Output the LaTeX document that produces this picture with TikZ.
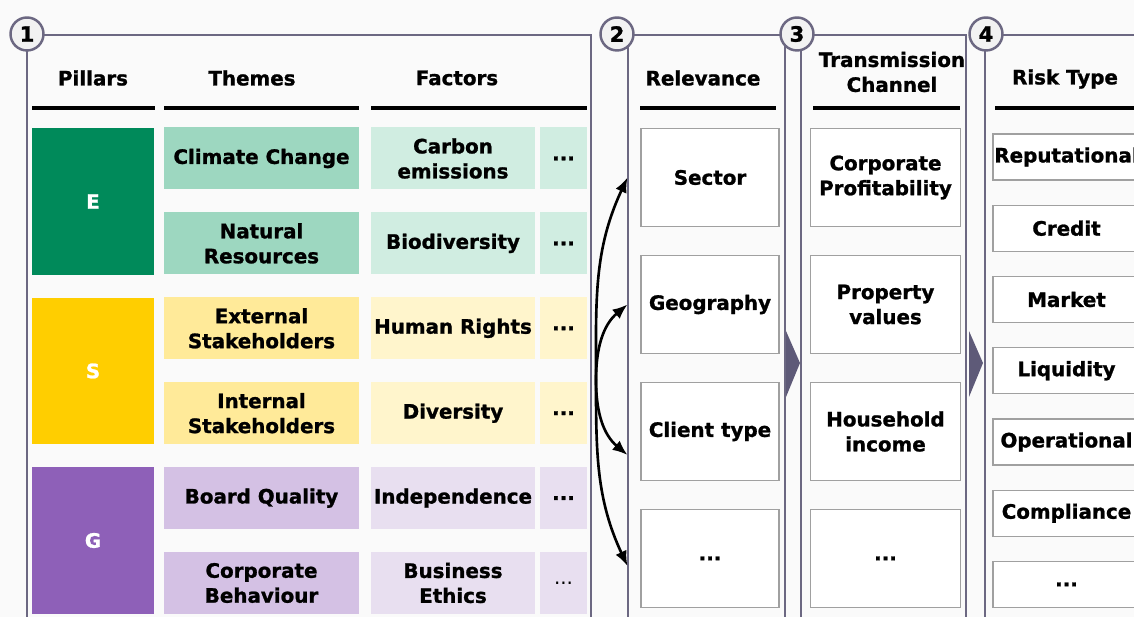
\documentclass[tikz,border=0pt]{standalone}
\usepackage{fontspec}
\setmainfont{DejaVu Sans}[BoldFeatures={FakeBold=1.2}]
\usetikzlibrary{arrows.meta}

\definecolor{bg}{RGB}{250,250,250}
\definecolor{frame}{RGB}{108,104,130}
\definecolor{chev}{RGB}{94,90,120}
\definecolor{circfill}{RGB}{242,242,242}
\definecolor{boxline}{RGB}{160,160,160}
\definecolor{eDark}{RGB}{0,138,90}
\definecolor{eThm}{RGB}{157,215,192}
\definecolor{eFac}{RGB}{208,237,225}
\definecolor{sDark}{RGB}{255,206,0}
\definecolor{sThm}{RGB}{255,234,153}
\definecolor{sFac}{RGB}{255,245,204}
\definecolor{gDark}{RGB}{142,96,184}
\definecolor{gThm}{RGB}{212,193,228}
\definecolor{gFac}{RGB}{232,223,240}

\newcommand{\dotsmark}{...}

\tikzset{
  cell/.style={inner sep=0pt, align=center, font=\fontsize{11.3}{14.2}\selectfont\bfseries},
  pillar/.style={cell, minimum width=2.44cm, minimum height=2.94cm, text=white},
  theme/.style={cell, minimum width=3.9cm, minimum height=1.24cm},
  factor/.style={cell, minimum width=3.28cm, minimum height=1.24cm},
  more/.style={cell, minimum width=0.94cm, minimum height=1.24cm},
  header/.style={cell},
  wbox/.style={cell, fill=white, draw=boxline, line width=0.6pt},
  relbox/.style={wbox, minimum width=2.76cm, minimum height=1.96cm},
  chanbox/.style={wbox, minimum width=3cm, minimum height=1.96cm},
  riskbox/.style={wbox, minimum width=2.94cm, minimum height=0.92cm},
  frameline/.style={draw=frame, line width=1.4pt},
  numcirc/.style={circle, draw=frame, fill=circfill, line width=1.4pt, minimum size=0.66cm,
    inner sep=0pt, font=\fontsize{12}{14}\selectfont\bfseries},
  hrule/.style={line width=2.2pt},
  link/.style={line width=1.5pt, -{Latex[length=0.3cm,width=0.24cm]}}
}

\begin{document}
\begin{tikzpicture}[x=0.02cm, y=-0.02cm]
  % Page and background
  \path[use as bounding box, fill=bg] (0,0) rectangle (1134,617);

  % Draw the panel frames
  \draw[frameline] (27,630) -- (27,35) -- (591,35) -- (591,630);
  \draw[frameline] (628,630) -- (628,35) -- (785,35) -- (785,630);
  \draw[frameline] (801,630) -- (801,35) -- (966,35) -- (966,630);
  \draw[frameline] (985,630) -- (985,35) -- (1150,35);

  % Chevrons between the panels
  \fill[chev] (786,331) -- (800,363) -- (786,397) -- cycle;
  \fill[chev] (969,331) -- (983,363) -- (969,397) -- cycle;

  % Panel numbers
  \foreach \n/\x in {1/27,2/617,3/797,4/986} {
    \node[numcirc] (num\n) at (\x,34) {\n};
  }

  % Column headers
  \node[header] (hPil) at (93,78) {Pillars};
  \node[header] (hThm) at (252,78) {Themes};
  \node[header] (hFac) at (457,78) {Factors};
  \node[header] (hRel) at (703,78) {Relevance};
  \node[header] (hChn) at (892,72) {Transmission\\Channel};
  \node[header] (hRsk) at (1065,79) {Risk Type};
  \foreach \a/\b in {32/155,164/359,371/587,640/776,813/960,995/1140} {
    \draw[hrule] (\a,108) -- (\b,108);
  }

  % Pillars
  \foreach \p/\y/\c in {E/201.5/eDark,S/371/sDark,G/540.5/gDark} {
    \node[pillar, fill=\c] (pil\p) at (93,\y) {\p};
  }

  % Themes and factors
  \foreach \i/\thm/\fac/\tc/\fc/\dw in {
      1/Climate Change/Carbon\\emissions/eThm/eFac/\bfseries,
      2/Natural\\Resources/Biodiversity/eThm/eFac/\bfseries,
      3/External\\Stakeholders/Human Rights/sThm/sFac/\bfseries,
      4/Internal\\Stakeholders/Diversity/sThm/sFac/\bfseries,
      5/Board Quality/Independence/gThm/gFac/\bfseries,
      6/Corporate\\Behaviour/Business\\Ethics/gThm/gFac/\mdseries} {
    \pgfmathsetmacro{\ry}{158.5+84.9*(\i-1)}
    \node[theme, fill=\tc] (thm\i) at (261.5,\ry) {\thm};
    \node[factor, fill=\fc] (fac\i) at (453,\ry) {\fac};
    \node[more, fill=\fc] (dot\i) at (563.5,\ry) {\dw\dotsmark};
  }

  % Relevance and transmission channels
  \foreach \i/\rel/\chn in {1/Sector/Corporate\\Profitability,2/Geography/Property\\values,
      3/Client type/Household\\income,4/\dotsmark/\dotsmark} {
    \pgfmathsetmacro{\ry}{177.5+127*(\i-1)}
    \node[relbox] (rel\i) at (710,\ry) {\rel};
    \node[chanbox] (chn\i) at (885.5,\ry) {\chn};
  }

  % Risk types
  \foreach \i/\rsk in {1/Reputational,2/Credit,3/Market,4/Liquidity,5/Operational,
      6/Compliance,7/\dotsmark} {
    \pgfmathsetmacro{\ry}{157+71.25*(\i-1)}
    \node[riskbox] (risk\i) at (1066.5,\ry) {\rsk};
  }

  % Links from factors to relevance
  \coordinate (src) at (596,380);
  \coordinate (tip1) at ([xshift=-0.26cm]rel1.west);
  \coordinate (tip2) at ([xshift=-0.26cm]rel2.west);
  \coordinate (tip3) at ([xshift=-0.26cm,yshift=-0.47cm]rel3.west);
  \coordinate (tip4) at ([xshift=-0.26cm,yshift=-0.15cm]rel4.west);
  \draw[link] (src) to[out=90,in=-115] (tip1);
  \draw[link] (src) to[out=90,in=-140] (tip2);
  \draw[link] (src) to[out=-90,in=140] (tip3);
  \draw[link] (src) to[out=-90,in=115] (tip4);
\end{tikzpicture}
\end{document}
